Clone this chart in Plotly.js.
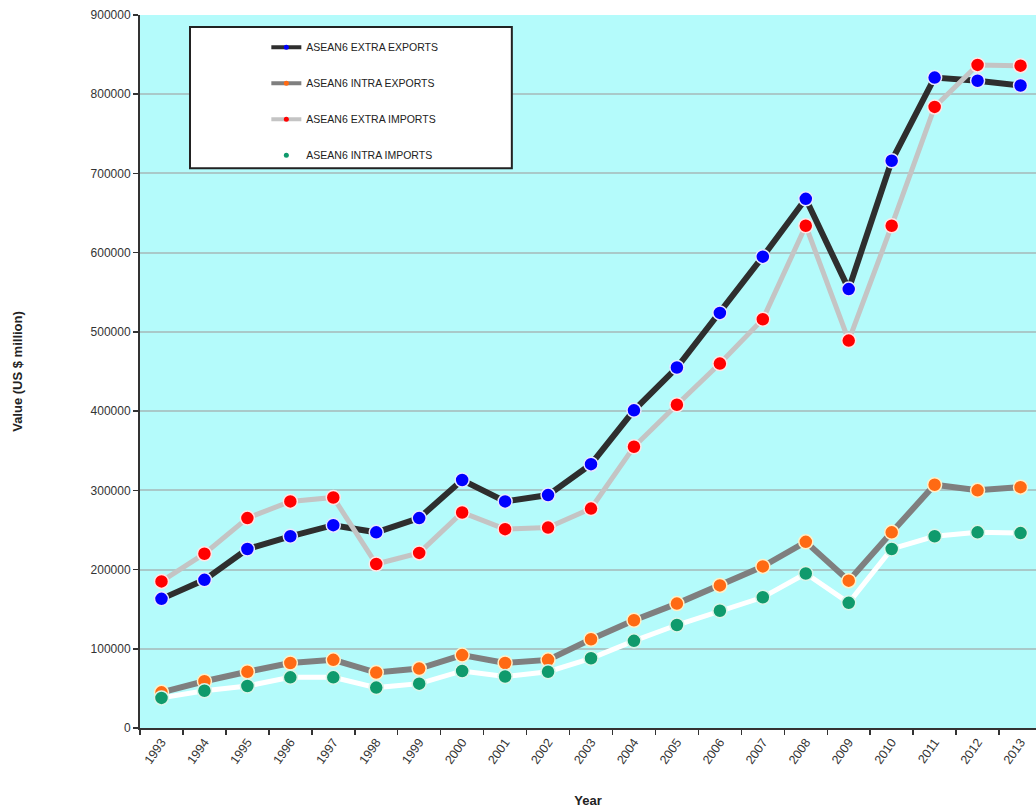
<!DOCTYPE html>
<html>
<head>
<meta charset="utf-8">
<script src="https://cdn.plot.ly/plotly-3.0.1.min.js"></script>
<style>
  html, body { margin: 0; padding: 0; background: #ffffff; }
  #chart { width: 1036px; height: 812px; }
</style>
</head>
<body>
<div id="chart"></div>
<script>
const years = ['1993','1994','1995','1996','1997','1998','1999','2000','2001','2002','2003',
               '2004','2005','2006','2007','2008','2009','2010','2011','2012','2013'];

const seriesNames = ['ASEAN6 EXTRA EXPORTS', 'ASEAN6 INTRA EXPORTS', 'ASEAN6 EXTRA IMPORTS', 'ASEAN6 INTRA IMPORTS'];

const extraExports = [163000, 187000, 226000, 242000, 256000, 247000, 265000, 313000, 286000, 294000, 333000,
                      401000, 455000, 524000, 595000, 668000, 554000, 716000, 821000, 817000, 811000];
const intraExports = [45000, 59000, 71000, 82000, 86000, 70000, 75000, 92000, 82000, 86000, 112000,
                      136000, 157000, 180000, 204000, 235000, 186000, 247000, 307000, 300000, 304000];
const extraImports = [185000, 220000, 265000, 286000, 291000, 207000, 221000, 272000, 251000, 253000, 277000,
                      355000, 408000, 460000, 516000, 634000, 489000, 634000, 784000, 837000, 836000];
const intraImports = [38000, 47000, 53000, 64000, 64000, 51000, 56000, 72000, 65000, 71000, 88000,
                      110000, 130000, 148000, 165000, 195000, 158000, 226000, 242000, 247000, 246000];

const seriesValues = [extraExports, intraExports, extraImports, intraImports];
const lineColors = ['#2e2e2e', '#7f7f7f', '#c4c4c4', '#ffffff'];
const lineWidths = [6, 6, 5, 5];
const markerColors = ['#0000ff', '#ff6a13', '#ff0000', '#0f9a6c'];
const markerLines = ['#e8e8ff', '#fff0c8', '#ffe6e6', '#d8f5ea'];

const traces = [];
seriesValues.forEach((vals, i) => {
  traces.push({
    type: 'scatter', mode: 'lines+markers',
    x: years, y: vals, name: seriesNames[i],
    showlegend: false,
    line: { color: lineColors[i], width: lineWidths[i] },
    marker: { color: markerColors[i], size: 14, line: { color: markerLines[i], width: 1.5 } },
    hoverinfo: 'x+y+name'
  });
});
// legend entries
seriesNames.forEach((nm, i) => {
  traces.push({
    type: 'scatter', mode: i === 3 ? 'markers' : 'lines+markers',
    x: [null], y: [null], name: nm,
    legendgroup: 'g' + i,
    showlegend: true,
    line: { color: lineColors[i], width: 4 },
    marker: { color: markerColors[i], size: 5 }
  });
});

const layout = {
  width: 1036, height: 812,
  margin: { l: 140, r: 0, t: 15, b: 84 },
  paper_bgcolor: '#ffffff',
  plot_bgcolor: '#b4fbfb',
  font: { family: 'Liberation Sans, Arial, sans-serif', color: '#222222' },
  showlegend: true,
  legend: {
    x: 0.141, y: 0.975, xanchor: 'left', yanchor: 'top',
    bgcolor: 'rgba(0,0,0,0)', borderwidth: 0,
    font: { size: 10.5, color: '#222222' },
    traceorder: 'grouped', tracegroupgap: 17,
    itemwidth: 30
  },
  xaxis: {
    type: 'category',
    range: [-0.5, 20.36],
    tickson: 'boundaries',
    ticks: 'outside', ticklen: 5, tickcolor: '#333333', tickwidth: 1.5,
    tickangle: -55,
    tickfont: { size: 12.5, color: '#333333' },
    showgrid: false,
    showline: true, linecolor: '#333333', linewidth: 2,
    zeroline: false,
    title: { text: '<b>Year</b>', font: { size: 13, color: '#222222' }, standoff: 30 }
  },
  yaxis: {
    range: [0, 900000],
    dtick: 100000, tick0: 0,
    tickformat: 'd',
    ticks: 'outside', ticklen: 5, tickcolor: '#333333', tickwidth: 1.5,
    tickfont: { size: 12, color: '#333333' },
    showgrid: true, gridcolor: '#a9c9c9', gridwidth: 2,
    showline: true, linecolor: '#333333', linewidth: 2,
    zeroline: false,
    title: { text: '<b>Value (US $ million)</b>', font: { size: 13, color: '#222222' }, standoff: 65 }
  },
  shapes: [{
    type: 'rect', xref: 'paper', yref: 'paper',
    x0: 0.0558, x1: 0.415, y0: 0.785, y1: 0.983,
    fillcolor: '#ffffff', line: { color: '#222222', width: 2 },
    layer: 'above'
  }]
};

Plotly.newPlot('chart', traces, layout, { displayModeBar: false, staticPlot: true });
</script>
</body>
</html>
